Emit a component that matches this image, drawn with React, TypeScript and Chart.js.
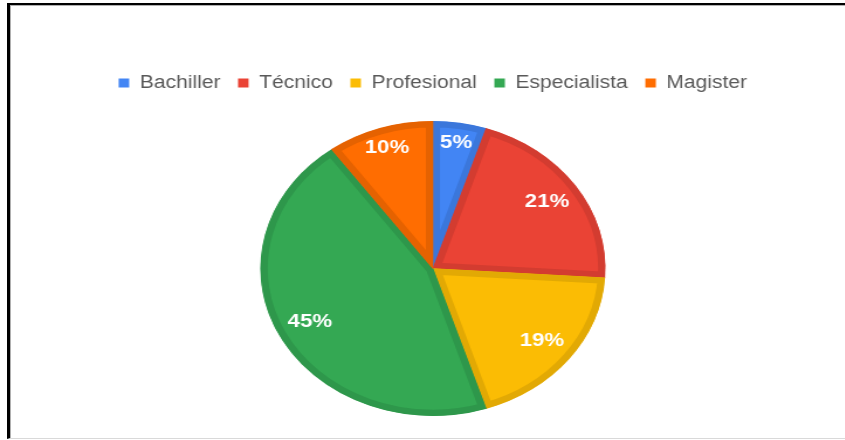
import React, { useEffect, useRef } from 'react';
import { Chart, registerables } from 'chart.js';

Chart.register(...registerables);

const categories = ['Bachiller', 'Técnico', 'Profesional', 'Especialista', 'Magister'];
const percentages = [5, 21, 19, 45, 10];
const fillColors = ['#4285F4', '#EA4335', '#FBBC04', '#34A853', '#FF6D01'];
const borderColors = ['#3B77DB', '#D33C30', '#E2A904', '#2E974B', '#E56201'];

const STRETCH = 1.17;
const CANVAS_W = 722;
const CANVAS_H = 440;
const FONT_FAMILY = '"Liberation Sans", Arial, Helvetica, sans-serif';

export default function App() {
  const ref = useRef<HTMLCanvasElement>(null);

  useEffect(() => {
    if (!ref.current) return;

    const sliceLabels = {
      id: 'sliceLabels',
      afterDatasetsDraw(chart: any) {
        const ctx = chart.ctx;
        const meta = chart.getDatasetMeta(0);
        const data = chart.data.datasets[0].data as number[];
        ctx.save();
        ctx.font = `bold 19px ${FONT_FAMILY}`;
        ctx.fillStyle = '#ffffff';
        ctx.textAlign = 'center';
        ctx.textBaseline = 'middle';
        meta.data.forEach((arc: any, i: number) => {
          const { x, y, startAngle, endAngle, outerRadius } = arc.getProps(
            ['x', 'y', 'startAngle', 'endAngle', 'outerRadius'],
            true
          );
          const mid = (startAngle + endAngle) / 2;
          const f = data[i] <= 10 ? 0.86 : 0.8;
          ctx.fillText(
            `${data[i]}%`,
            x + Math.cos(mid) * outerRadius * f,
            y + Math.sin(mid) * outerRadius * f
          );
        });
        ctx.restore();
      },
    };

    const chart = new Chart(ref.current, {
      type: 'pie',
      data: {
        labels: categories,
        datasets: [
          {
            data: percentages,
            backgroundColor: fillColors,
            borderColor: borderColors,
            borderWidth: 6,
            borderAlign: 'inner',
            hoverOffset: 0,
            radius: 147.5,
          } as any,
        ],
      },
      options: {
        responsive: false,
        animation: false,
        devicePixelRatio: 1,
        layout: { padding: { top: 59, bottom: 5, left: 18, right: 0 } },
        plugins: {
          tooltip: { enabled: false },
          legend: {
            position: 'top',
            labels: {
              font: { family: FONT_FAMILY, size: 18 },
              color: '#595959',
              usePointStyle: true,
              pointStyle: 'rect',
              boxHeight: 9,
              pointStyleWidth: 9,
              padding: 15,
              generateLabels: (c: any) => {
                const base = (Chart as any).overrides.doughnut.plugins.legend.labels.generateLabels(c);
                return base.map((it: any) => ({ ...it, lineWidth: 0, strokeStyle: it.fillStyle }));
              },
            },
          },
        },
      } as any,
      plugins: [sliceLabels],
    });

    return () => chart.destroy();
  }, []);

  return (
    <div
      style={{
        position: 'absolute',
        left: 0,
        top: 0,
        width: 845,
        height: 440,
        overflow: 'hidden',
        background: '#ffffff',
      }}
    >
      <canvas
        ref={ref}
        width={CANVAS_W}
        height={CANVAS_H}
        style={{
          position: 'absolute',
          left: 0,
          top: 0,
          display: 'block',
          transform: `scaleX(${STRETCH})`,
          transformOrigin: '0 0',
        }}
      />
      <div
        style={{
          position: 'absolute',
          left: 7,
          top: 3,
          width: 838,
          height: 436,
          boxSizing: 'border-box',
          borderTop: '2px solid #000',
          borderLeft: '3px solid #000',
          borderBottom: '1px solid #d9d9d9',
          boxShadow: 'inset 1px 1px 0 #b0b0b0',
          pointerEvents: 'none',
        }}
      />
    </div>
  );
}
